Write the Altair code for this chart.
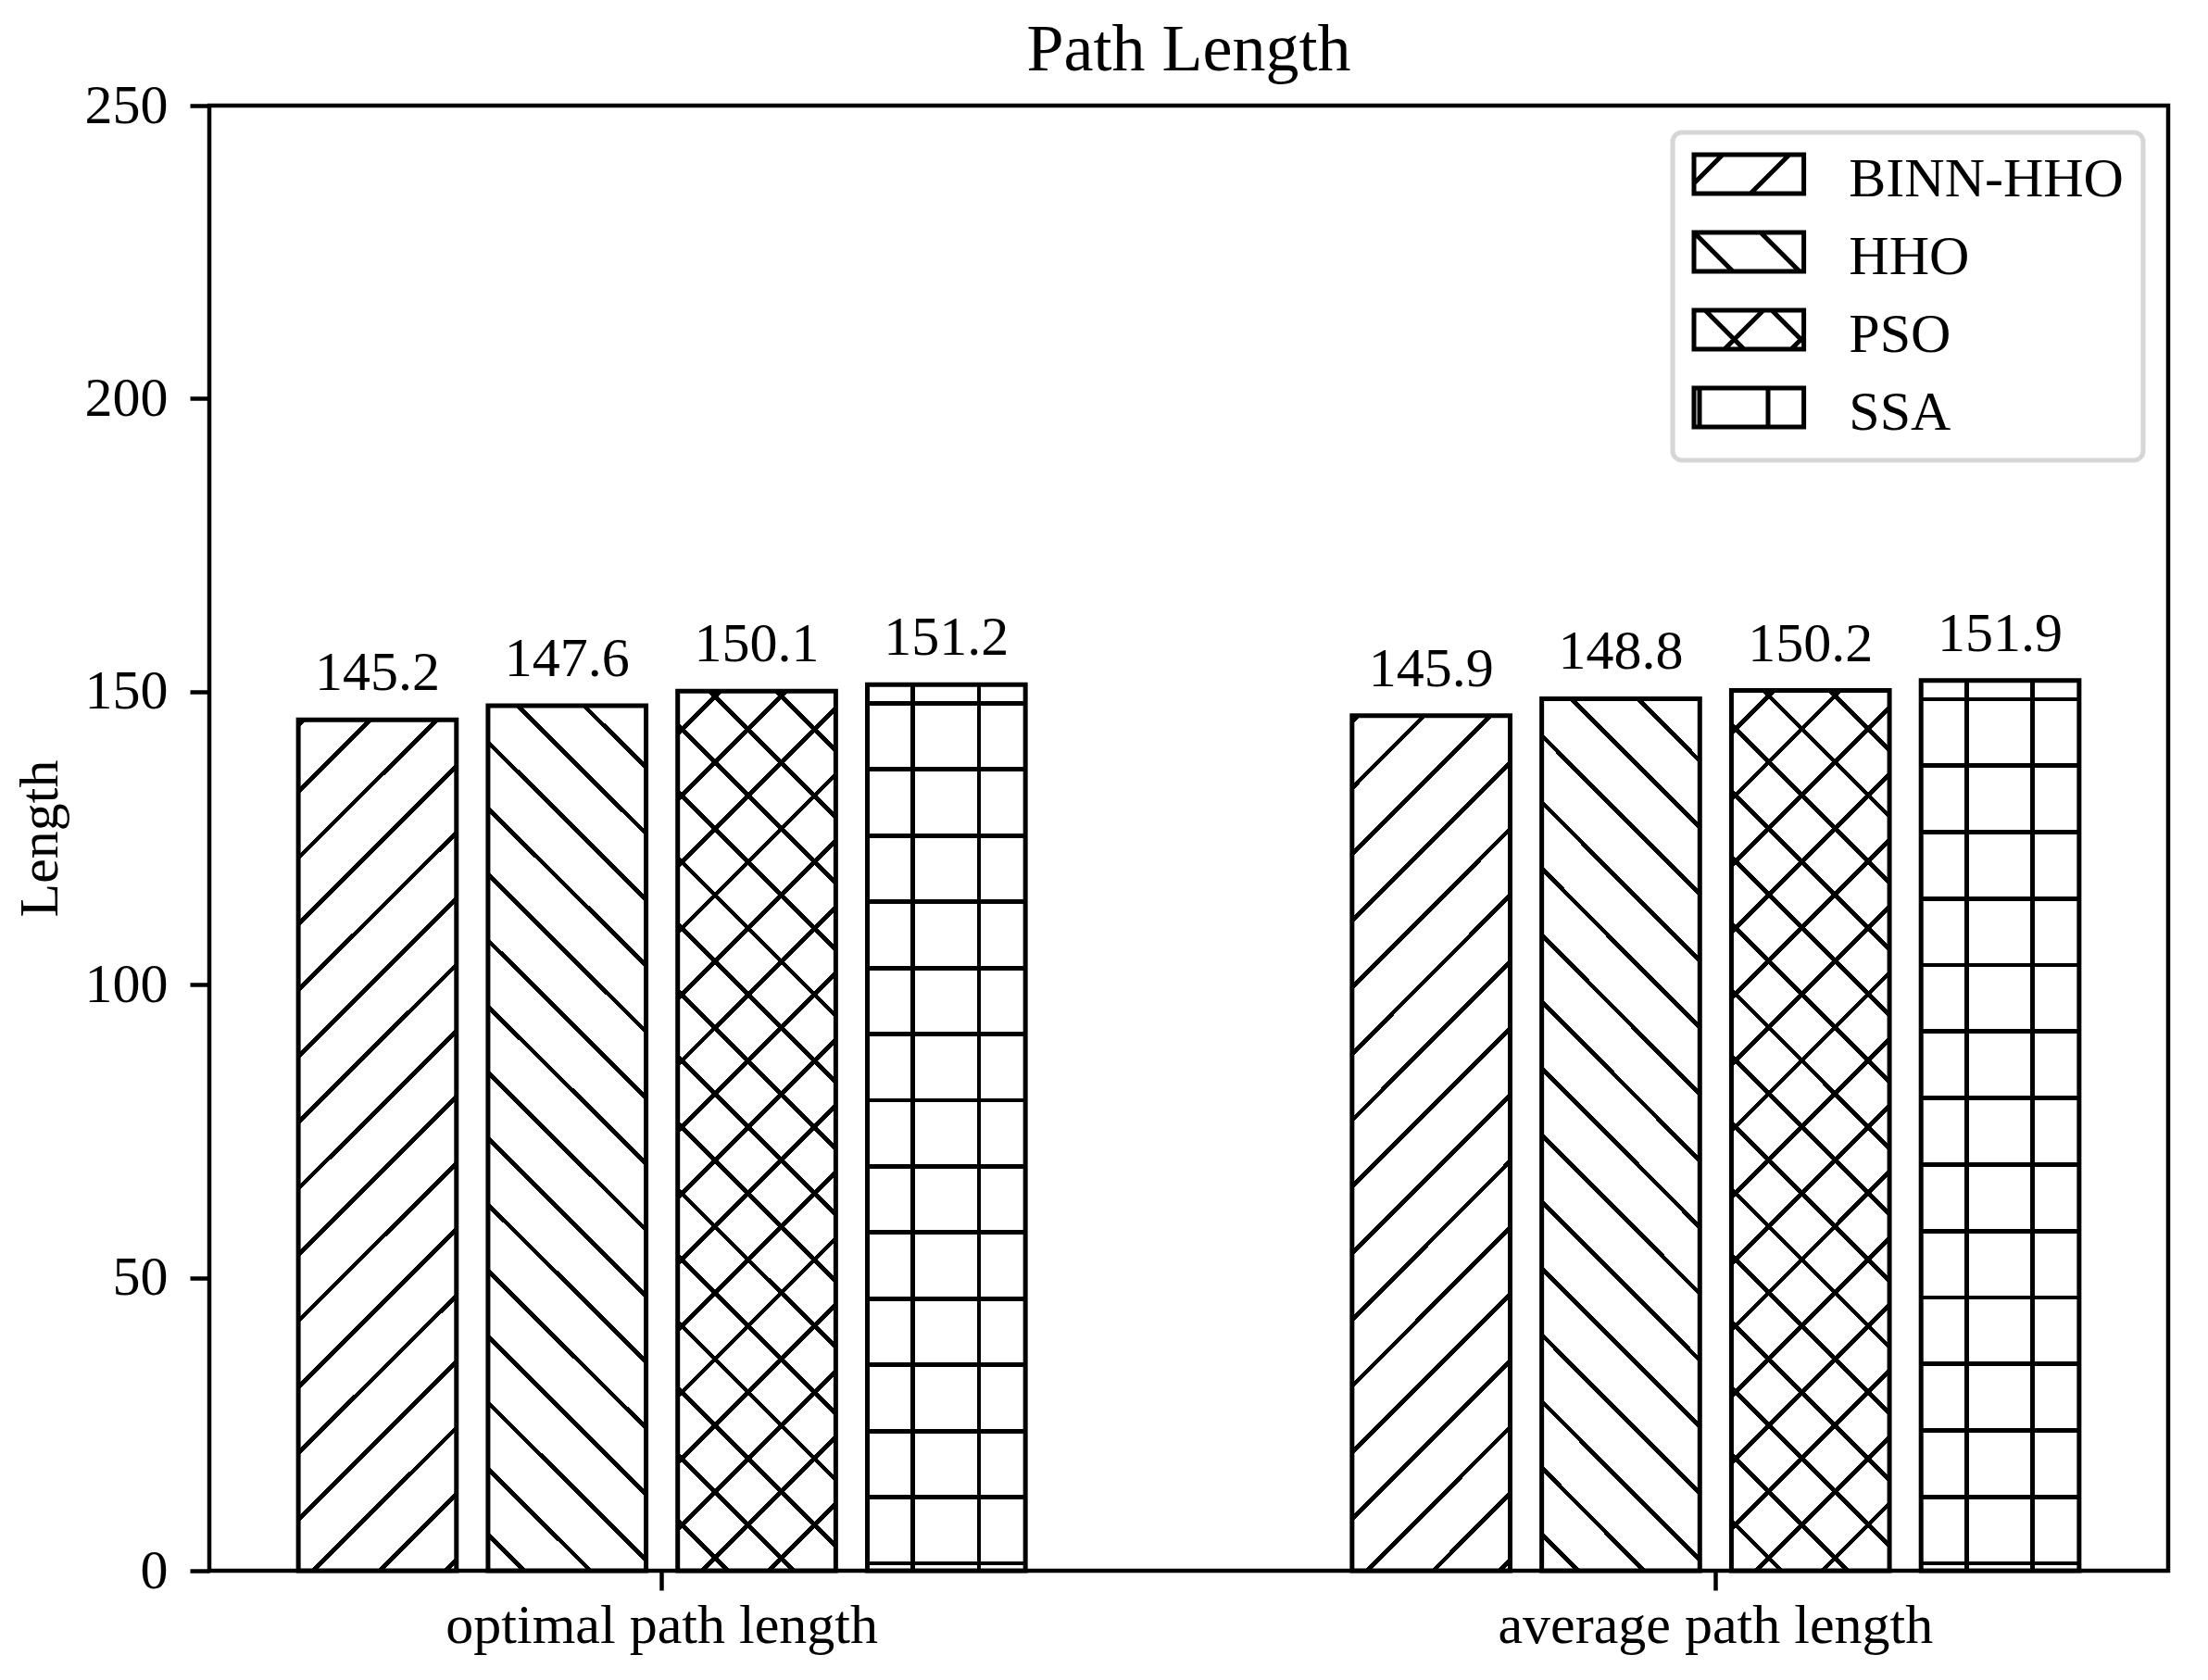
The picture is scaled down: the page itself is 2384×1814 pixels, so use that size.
import math
import altair as alt
import pandas as pd

# ---------------- data ----------------
categories = ["optimal path length", "average path length"]
series = ["BINN-HHO", "HHO", "PSO", "SSA"]
optimal_length = [145.2, 147.6, 150.1, 151.2]
average_length = [145.9, 148.8, 150.2, 151.9]
y_ticks = [0, 50, 100, 150, 200, 250]
y_domain = [0, 250]

rows = []
for cat, vals in zip(categories, [optimal_length, average_length]):
    for s, v in zip(series, vals):
        rows.append({"category": cat, "series": s, "value": v})
df = pd.DataFrame(rows)

# ---------------- layout / style ----------------
FONT = "Liberation Serif"
W, H = 2115, 1582
X_PI, X_PO = 0.28, 0.0695
XO_PI, XO_PO = 1 / 6, 1 / 12

step = W / (len(categories) - X_PI + 2 * X_PO)
group_w = step * (1 - X_PI)
sub_step = group_w / (len(series) - XO_PI + 2 * XO_PO)
bar_w = sub_step * (1 - XO_PI)
px_per_unit = H / (y_domain[1] - y_domain[0])

S = 71.6      # hatch spacing (px)
LW = 4.8      # hatch line width (px)
CLEAR = "rgba(0,0,0,0)"
INK = "#000000"


def make_stops(centers, half):
    pts = [(0.0, CLEAR)]
    last = 0.0
    for t in sorted(centers):
        a = max(0.0, t - half, last)
        b = min(1.0, t + half)
        if b <= a:
            continue
        pts += [(a, CLEAR), (a, INK), (b, INK), (b, CLEAR)]
        last = b
    pts.append((1.0, CLEAR))
    return [alt.GradientStop(offset=round(o, 6), color=c) for o, c in pts]


def hatch_gradient(kind, phase, h):
    w = bar_w
    if kind in ("/", "\\"):
        L = w + h
        k = L / (w * w + h * h)
        half = LW * math.sqrt(2) / 2 / L
        if kind == "/":
            ms = range(int(math.floor((-h - phase) / S)) - 1, int(math.ceil((w - phase) / S)) + 2)
            centers = [(phase + m * S + h) / L for m in ms]
            coords = (0, 0, w * k, h * k)
        else:
            ms = range(-1, int(math.ceil((L - phase) / S)) + 2)
            centers = [(phase + m * S) / L for m in ms]
            coords = (0, 1, w * k, 1 - h * k)
    elif kind == "|":
        half = LW / 2 / w
        centers = [(phase + m * S) / w for m in range(-1, int(math.ceil(w / S)) + 2)]
        coords = (0, 0, 1, 0)
    else:
        half = LW / 2 / h
        centers = [(phase + m * S) / h for m in range(-1, int(math.ceil(h / S)) + 2)]
        coords = (0, 1, 0, 0)
    return alt.LinearGradient(
        gradient="linear", stops=make_stops(centers, half),
        x1=coords[0], y1=coords[1], x2=coords[2], y2=coords[3],
    )


hatch_specs = {
    "BINN-HHO": [("/", 16)],
    "HHO": [("\\", 39)],
    "PSO": [("/", 26.5), ("\\", 54)],
    "SSA": [("|", 49), ("-", 8)],
}

# legend swatch glyphs (custom symbol paths)
SYM = 55.0
R = SYM / 2
BW, BH = 118.6, 42.0
LIFT = 6.0


def pt(X, Y):
    return f"{(X - BW / 2) / R:.4f},{(Y - BH / 2 - LIFT) / R:.4f}"


def swatch(lines):
    d = f"M{pt(0, 0)}L{pt(BW, 0)}L{pt(BW, BH)}L{pt(0, BH)}Z"
    for (a, b, c, e) in lines:
        d += f"M{pt(a, b)}L{pt(c, e)}"
    return d


legend_paths = [
    swatch([(0, 31, 31, 0), (61, 42, 103, 0)]),
    swatch([(0, 0, 42, 42), (72, 0, 114, 42)]),
    swatch([(12, 0, 54, 42), (84, 0, 118.6, 34.6), (33, 42, 75, 0), (105, 42, 118.6, 28.4)]),
    swatch([(6, 0, 6, 42), (80, 0, 80, 42)]),
]

# ---------------- encodings ----------------
x_enc = alt.X(
    "category:N",
    scale=alt.Scale(domain=categories, paddingInner=X_PI, paddingOuter=X_PO),
    axis=alt.Axis(title=None, labelAngle=0, labelPadding=9, labelLimit=1000),
)
xo_enc = alt.XOffset(
    "series:N", scale=alt.Scale(domain=series, paddingInner=XO_PI, paddingOuter=XO_PO)
)
y_scale = alt.Scale(domain=y_domain, nice=False)
y_axis = alt.Axis(
    values=y_ticks, title="Length", labelPadding=24,
    titleX=-165, titleBaseline="alphabetic", titleAngle=270,
)
y_enc = alt.Y("value:Q", scale=y_scale, axis=y_axis)

base = alt.Chart(df).encode(x=x_enc, xOffset=xo_enc, y=y_enc)

layers = [base.mark_bar(fill="white", stroke="black", strokeWidth=5)]

for s, vals in zip(series, zip(optimal_length, average_length)):
    h_mean = sum(vals) / len(vals) * px_per_unit
    for kind, phase in hatch_specs[s]:
        layers.append(
            base.transform_filter(alt.datum.series == s).mark_bar(
                fill=hatch_gradient(kind, phase, h_mean)
            )
        )

layers.append(
    base.mark_text(
        dy=-32, baseline="alphabetic", align="center",
        font=FONT, fontSize=60, color="black",
    ).encode(text=alt.Text("value:Q", format=".1f"))
)

layers.append(
    base.transform_calculate(hidden="-datum.value")
    .mark_point(clip=True, filled=False, color="black", opacity=1, strokeWidth=5)
    .encode(
        y=alt.Y("hidden:Q", scale=y_scale, axis=y_axis),
        shape=alt.Shape(
            "series:N",
            scale=alt.Scale(domain=series, range=legend_paths),
            legend=alt.Legend(
                title=None, orient="none", legendX=1580, legendY=29,
                padding=21, rowPadding=17,
                symbolSize=SYM * SYM, symbolStrokeWidth=5, symbolOffset=31.3,
                symbolStrokeColor="black",
                labelOffset=78, labelFont=FONT, labelFontSize=60,
                labelColor="black", labelLimit=600, labelBaseline="middle",
                fillColor="white", strokeColor="#d6d6d6", cornerRadius=10,
            ),
        ),
    )
)

chart = (
    alt.layer(*layers)
    .properties(
        width=W, height=H,
        title=alt.TitleParams(
            text="Path Length", font=FONT, fontSize=72, fontWeight="normal",
            color="black", anchor="middle", frame="group", offset=6,
            baseline="alphabetic", dy=70,
        ),
        autosize=alt.AutoSizeParams(type="none"),
        padding={"left": 218, "top": 106, "right": 30, "bottom": 100},
    )
    .configure_view(stroke="black", strokeWidth=4.5)
    .configure_axis(
        domain=False, grid=False,
        labelFont=FONT, labelFontSize=60, labelColor="black",
        tickColor="black", tickWidth=4.5, tickSize=21,
        titleFont=FONT, titleFontSize=60, titleFontWeight="normal", titleColor="black",
    )
    .configure_legend(strokeWidth=5)
)

chart.save("out.html", embed_options={"renderer": "svg", "actions": False})
